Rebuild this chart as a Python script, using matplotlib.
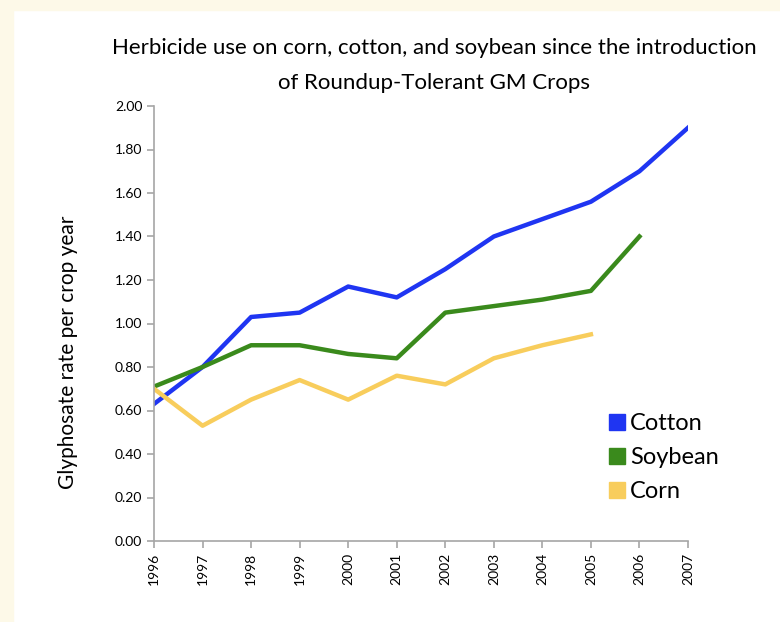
import matplotlib.pyplot as plt
from matplotlib.lines import Line2D
from matplotlib.patches import Rectangle

years = [1996, 1997, 1998, 1999, 2000, 2001, 2002, 2003, 2004, 2005, 2006, 2007]
cotton = [0.63, 0.80, 1.03, 1.05, 1.17, 1.12, 1.25, 1.40, 1.48, 1.56, 1.70, 1.90]
soybean = [0.71, 0.80, 0.90, 0.90, 0.86, 0.84, 1.05, 1.08, 1.11, 1.15, 1.40]
corn = [0.70, 0.53, 0.65, 0.74, 0.65, 0.76, 0.72, 0.84, 0.90, 0.95]

c_cotton = '#1f35f2'
c_soy = '#3a8a1c'
c_corn = '#f8cd5c'
grey = '#a6a6a6'
narrow = ['Lato', 'DejaVu Sans']

fig = plt.figure(figsize=(7.8, 6.22), dpi=100)
fig.patch.set_facecolor('white')
# cream border on the left and top
fig.patches.append(Rectangle((0, 0), 13 / 780, 1, transform=fig.transFigure,
                             color='#fdf9e8', zorder=-1))
fig.patches.append(Rectangle((0, 1 - 10 / 622), 1, 10 / 622, transform=fig.transFigure,
                             color='#fdf9e8', zorder=-1))

ax = fig.add_axes([154 / 780, 1 - 541 / 622, (688 - 154) / 780, (541 - 106) / 622])

lw = 3.2
ax.plot(years, cotton, color=c_cotton, lw=lw, solid_joinstyle='round')
ax.plot(years[:len(soybean)], soybean, color=c_soy, lw=lw, solid_joinstyle='round')
ax.plot(years[:len(corn)], corn, color=c_corn, lw=lw, solid_joinstyle='round')

ax.set_xlim(1996, 2007)
ax.set_ylim(0, 2)
ax.set_xticks(years)
ax.set_xticklabels([str(y) for y in years], rotation=90, fontsize=10,
                   family=narrow)
ax.set_yticks([i * 0.2 for i in range(11)])
ax.set_yticklabels(['%.2f' % (i * 0.2) for i in range(11)], fontsize=10,
                   family=narrow)
for s in ['top', 'right']:
    ax.spines[s].set_visible(False)
for s in ['left', 'bottom']:
    ax.spines[s].set_color(grey)
    ax.spines[s].set_linewidth(1.2)
ax.tick_params(colors=grey, labelcolor='black', length=5, width=1.2, direction='out')

fig.text(434 / 780, 1 - 48 / 622, 'Herbicide use on corn, cotton, and soybean since the introduction',
         ha='center', va='center', fontsize=16, family=narrow)
fig.text(434 / 780, 1 - 83 / 622, 'of Roundup-Tolerant GM Crops',
         ha='center', va='center', fontsize=16, family=narrow)
fig.text(68 / 780, 1 - 352 / 622, 'Glyphosate rate per crop year', rotation=90,
         ha='center', va='center', fontsize=15, family=narrow)

handles = [Line2D([], [], marker='s', ls='none', color=c, markersize=11)
           for c in [c_cotton, c_soy, c_corn]]
ax.legend(handles, ['Cotton', 'Soybean', 'Corn'], frameon=False,
          loc='upper left', bbox_to_anchor=(443 / 534, 1 - (404 - 106) / 435),
          prop={'family': narrow, 'size': 17}, handletextpad=0.1,
          handlelength=0.9, labelspacing=0.55, borderaxespad=0)

plt.savefig('out.png', dpi=100)
